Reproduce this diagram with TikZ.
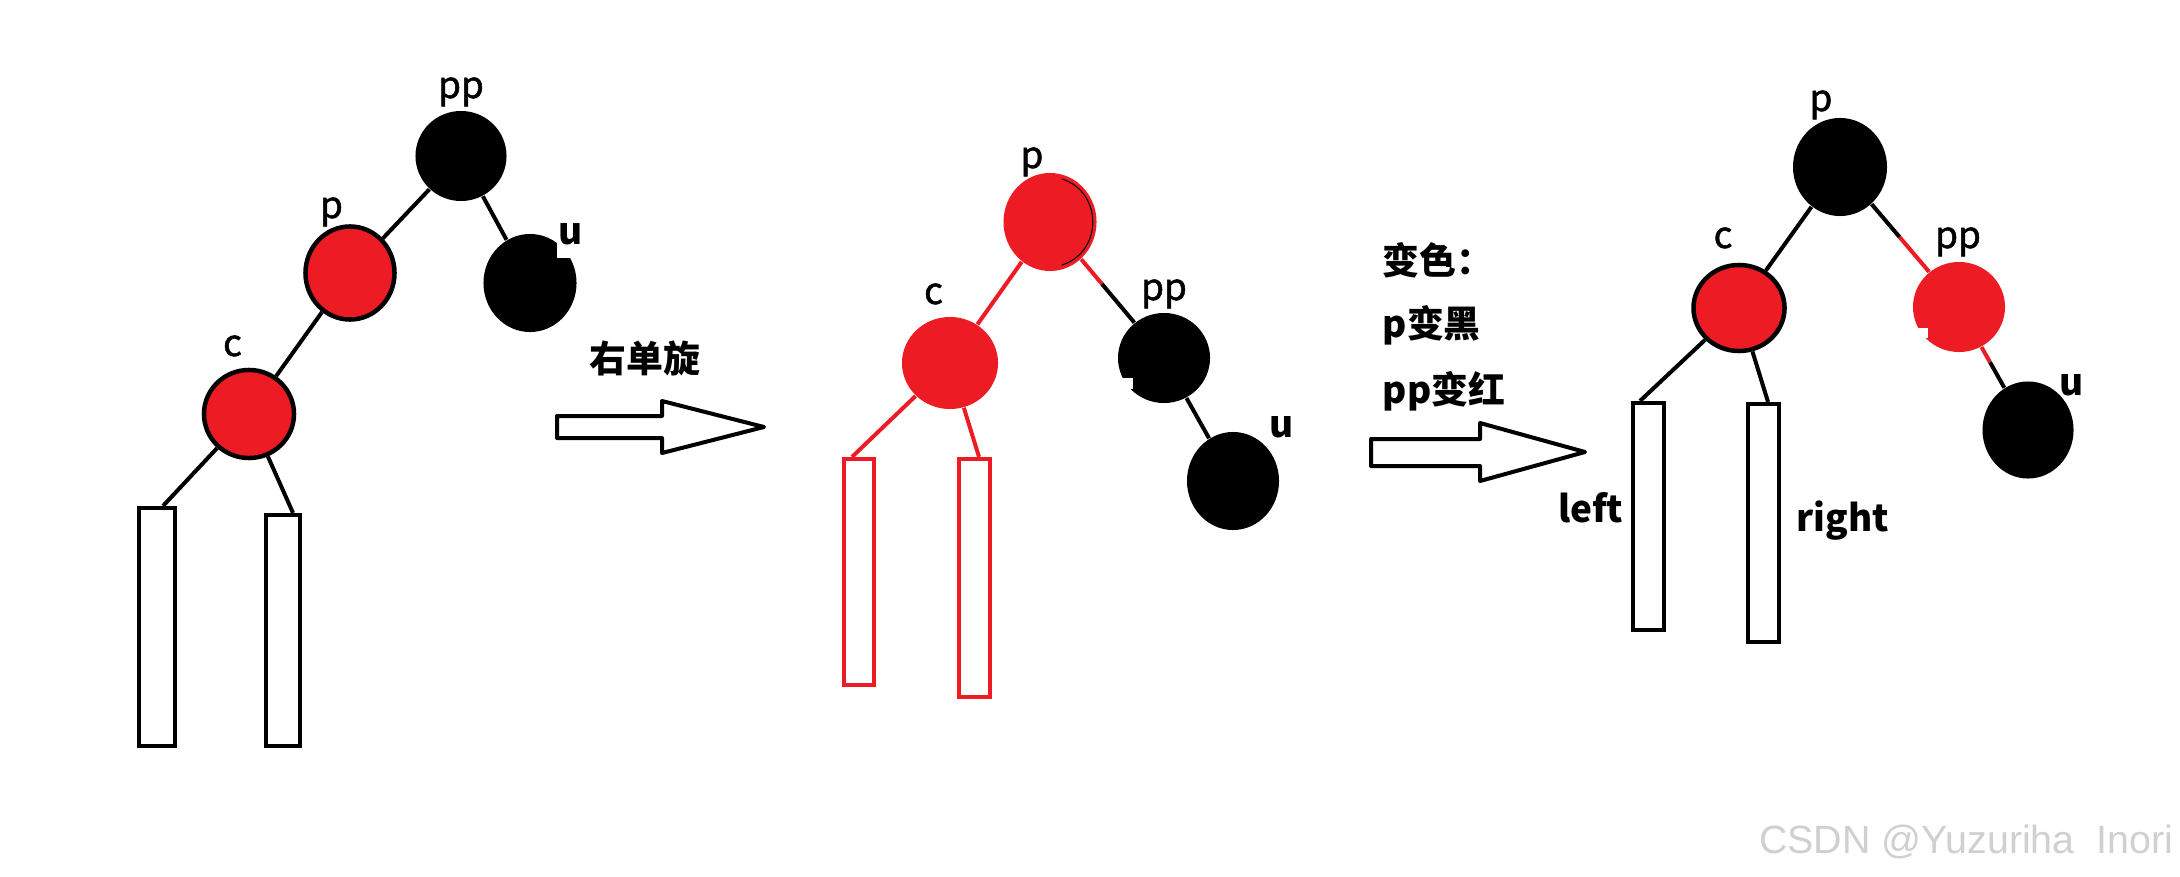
\documentclass[tikz,border=0pt]{standalone}
\usepackage{fontspec}
\setmainfont{Noto Sans CJK SC}
\newfontfamily\medfont[FakeBold=1.4]{Noto Sans CJK SC}
\newfontfamily\wmfont{Liberation Sans}
\usetikzlibrary{shapes.geometric,calc}
\definecolor{rbred}{RGB}{237,28,36}
\definecolor{wmgray}{RGB}{208,208,208}
\newcommand\lblfont{\fontsize{10.5pt}{12pt}\selectfont}
\tikzset{
  bnode/.style={ellipse, fill=black, inner sep=0pt},
  rnode/.style={ellipse, fill=rbred, inner sep=0pt},
  rnodeo/.style={ellipse, fill=rbred, draw=black, line width=0.045cm, inner sep=0pt},
  leaf/.style={rectangle, draw=black, fill=white, line width=0.04cm, inner sep=0pt},
  rleaf/.style={leaf, draw=rbred},
  lnk/.style={draw=black, line width=0.04cm},
  rlnk/.style={draw=rbred, line width=0.04cm},
  lbl/.style={anchor=base, inner sep=0pt, font=\medfont\lblfont},
  blbl/.style={anchor=base, inner sep=0pt, font=\lblfont\bfseries},
  bigarrow/.style={draw=black, fill=white, line width=0.04cm, line join=round},
}
\begin{document}
\begin{tikzpicture}[x=0.01cm, y=-0.01cm]
\useasboundingbox (0,0) rectangle (2180,876);
\fill[white] (0,0) rectangle (2180,876);

% ---------------- tree 1 ----------------
\node[bnode, minimum width=0.91cm, minimum height=0.90cm] (pp1) at (461,156) {};
\node[rnodeo, minimum width=0.89cm, minimum height=0.93cm] (p1) at (350,273) {};
\node[bnode, minimum width=0.93cm, minimum height=0.98cm] (u1) at (530,283) {};
\node[rnodeo, minimum width=0.90cm, minimum height=0.88cm] (c1) at (249,414) {};
\node[leaf, minimum width=0.366cm, minimum height=2.38cm] (l1) at (157,627) {};
\node[leaf, minimum width=0.34cm, minimum height=2.31cm] (r1) at (283,630.5) {};
\fill[white] (557,226) rectangle (592,258);

\draw[lnk] (pp1) -- (p1);
\draw[lnk] (p1) -- (c1);
\draw[lnk] (pp1) -- (u1);
\draw[lnk] (c1) -- ([xshift=0.06cm]l1.north);
\draw[lnk] (c1) -- ([xshift=0.10cm]r1.north);

\node[lbl] (tpp1) at (461,98) {pp};
\node[lbl] (tp1) at (331.5,218) {p};
\node[lbl] (tc1) at (232.5,356) {c};
\node[blbl] (tu1) at (571,245) {u};

% arrow 1
\node[blbl, anchor=base west] (rot) at (589,372) {右单旋};
\draw[bigarrow] (557,416) -- (662,416) -- (662,401) -- (764,427) -- (662,453) -- (662,438) -- (557,438) -- cycle;

% ---------------- tree 2 ----------------
\node[rnode, minimum width=0.93cm, minimum height=0.98cm] (p2) at (1050,222) {};
\node[rnode, minimum width=0.96cm, minimum height=0.92cm] (c2) at (950,363) {};
\node[bnode, minimum width=0.92cm, minimum height=0.90cm] (pp2) at (1164,358) {};
\node[bnode, minimum width=0.92cm, minimum height=0.98cm] (u2) at (1233,481) {};
\node[rleaf, minimum width=0.30cm, minimum height=2.26cm] (l2) at (859,572) {};
\node[rleaf, minimum width=0.31cm, minimum height=2.38cm] (r2) at (974.5,578) {};
\fill[white] (1116,378) rectangle (1133,389);
\draw[black, line width=0.3pt] (1062,179) .. controls (1103,192) and (1103,252) .. (1062,265);

\coordinate (m2) at ($(p2)!0.456!(pp2)$);
\draw[rlnk] (p2) -- (c2);
\draw[rlnk] (p2) -- (m2);
\draw[lnk] (m2) -- (pp2);
\draw[lnk] (pp2) -- (u2);
\draw[rlnk] (c2) -- ([xshift=-0.07cm]l2.north);
\draw[rlnk] (c2) -- ([xshift=0.045cm]r2.north);

\node[lbl] (tp2) at (1032,168) {p};
\node[lbl] (tc2) at (933.5,304) {c};
\node[lbl] (tpp2) at (1164,300) {pp};
\node[blbl] (tu2) at (1282,437) {u};

% arrow 2
\node[blbl, anchor=base west] (rc1) at (1382,274) {变色：};
\node[blbl, anchor=base west] (rc2) at (1382,337) {p变黑};
\node[blbl, anchor=base west] (rc3) at (1382,403) {pp变红};
\draw[bigarrow] (1371,439) -- (1480,439) -- (1480,423) -- (1585,452) -- (1480,481) -- (1480,466) -- (1371,466) -- cycle;

% ---------------- tree 3 ----------------
\node[bnode, minimum width=0.94cm, minimum height=0.98cm] (p3) at (1840,167) {};
\node[rnodeo, minimum width=0.91cm, minimum height=0.86cm] (c3) at (1739,308) {};
\node[rnode, minimum width=0.92cm, minimum height=0.90cm] (pp3) at (1959,307) {};
\node[bnode, minimum width=0.91cm, minimum height=0.97cm] (u3) at (2028,430) {};
\node[leaf, minimum width=0.31cm, minimum height=2.27cm] (l3) at (1648.5,516.5) {};
\node[leaf, minimum width=0.31cm, minimum height=2.38cm] (r3) at (1763.5,523) {};
\fill[white] (1912,328) rectangle (1928,338);

\coordinate (m3) at ($(p3)!0.5!(pp3)$);
\coordinate (m3b) at ($(pp3)!0.45!(u3)$);
\draw[lnk] (p3) -- (c3);
\draw[lnk] (p3) -- (m3);
\draw[rlnk] (m3) -- (pp3);
\draw[rlnk] (pp3) -- (m3b);
\draw[lnk] (m3b) -- (u3);
\draw[lnk] (c3) -- ([xshift=-0.085cm]l3.north);
\draw[lnk] (c3) -- ([xshift=0.045cm]r3.north);

\node[lbl] (tp3) at (1821,111) {p};
\node[lbl] (tc3) at (1723,248) {c};
\node[lbl] (tpp3) at (1958,248) {pp};
\node[blbl] (tu3) at (2072,395) {u};
\node[blbl, anchor=base east] (tleft) at (1624,522) {left};
\node[blbl, anchor=base west] (tright) at (1796,531) {right};

% watermark
\node[anchor=base east, inner sep=0pt, text=wmgray, font=\wmfont\fontsize{11.2pt}{13pt}\selectfont] (wm) at (2174,853) {CSDN @Yuzuriha\ \ Inori};
\end{tikzpicture}
\end{document}
